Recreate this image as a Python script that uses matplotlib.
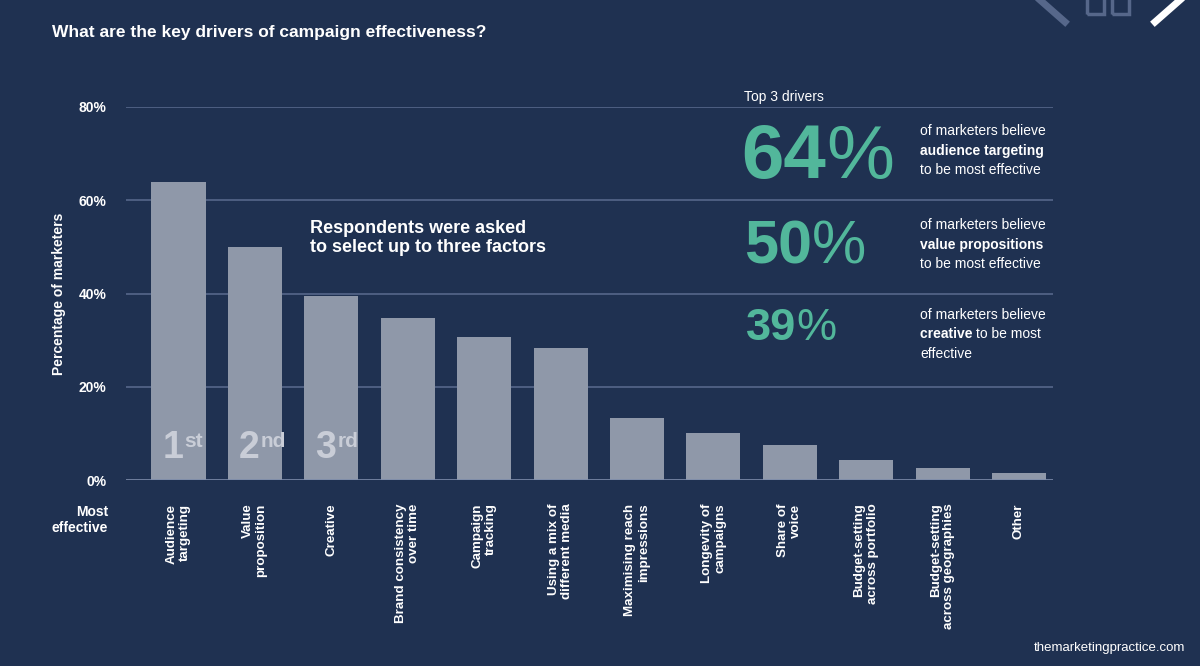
import matplotlib.pyplot as plt
from matplotlib.lines import Line2D
from matplotlib.patches import Rectangle

plt.rcParams["font.family"] = ["Liberation Sans", "DejaVu Sans"]

categories = [
    "Audience\ntargeting", "Value\nproposition", "Creative",
    "Brand consistency\nover time", "Campaign\ntracking",
    "Using a mix of\ndifferent media", "Maximising reach\nimpressions",
    "Longevity of\ncampaigns", "Share of\nvoice",
    "Budget-setting\nacross portfolio", "Budget-setting\nacross geographies",
    "Other",
]
values = [64, 50, 39.5, 34.8, 30.6, 28.3, 13.4, 10.0, 7.4, 4.2, 2.6, 1.6]
ranks = ["1", "2", "3"]
rank_suffix = ["st", "nd", "rd"]
yticks = [0, 20, 40, 60, 80]

top_pct = ["64", "50", "39"]
top_size = [55, 44, 32.5]
top_bold = ["audience targeting", "value propositions", "creative"]

BG = "#1f3151"
BAR = "#8f98a9"
GRID = "#56678a"
GREEN = "#52b79b"
WHITE = "#ffffff"

fig = plt.figure(figsize=(12, 6.66), dpi=100, facecolor=BG)
ax = fig.add_axes([126 / 1200, 186 / 666, 927 / 1200, 373 / 666])
ax.set_facecolor(BG)

x = list(range(len(values)))
ax.bar(x, values, width=0.707, color=BAR, zorder=3)
ax.set_xlim(-0.687, 11.445)
ax.set_ylim(0, 80)

for y in yticks:
    ax.axhline(y, color="#7d8cab" if y == 0 else GRID, lw=1.2, zorder=2 if y else 4)

for s in ax.spines.values():
    s.set_visible(False)
ax.set_yticks(yticks)
ax.set_yticklabels([f"{v}%" for v in yticks], fontweight="bold", fontsize=10, color=WHITE)
ax.tick_params(axis="y", length=0, pad=14)
ax.set_xticks(x)
ax.set_xticklabels([])
ax.tick_params(axis="x", length=0)
ax.set_ylabel("Percentage of marketers", fontweight="bold", fontsize=10,
              color=WHITE, labelpad=9)

for i, lab in enumerate(categories):
    ax.annotate(lab, (i, 0), xytext=(0, -17), textcoords="offset points",
                rotation=90, ha="center", va="top", multialignment="right",
                fontsize=9.6, fontweight="bold", color=WHITE, linespacing=1.15)

ax.annotate("Most\neffective", (-0.687, 0), xytext=(-13, -18), textcoords="offset points",
            ha="right", va="top", multialignment="right", fontsize=10,
            fontweight="bold", color=WHITE)

fig.canvas.draw()
renderer = fig.canvas.get_renderer()
for i in range(3):
    num = ax.annotate(ranks[i], (i - 0.707 / 2, 0), xytext=(8, 10), textcoords="offset points",
                      ha="left", va="bottom", fontsize=27, fontweight="bold",
                      color="#c9cdd7", zorder=5)
    bb = num.get_window_extent(renderer)
    ax.annotate(rank_suffix[i], (bb.x1 + 1, bb.y1 - 2), xycoords="figure pixels",
                ha="left", va="top", fontsize=15, fontweight="bold",
                color="#c9cdd7", zorder=5)

fig.text(310 / 1200, 1 - 238 / 666, "Respondents were asked\nto select up to three factors",
         fontsize=13, fontweight="bold", color=WHITE, va="center", linespacing=1.2)

fig.text(52 / 1200, 1 - 33 / 666, "What are the key drivers of campaign effectiveness?",
         fontsize=12.5, fontweight="bold", color=WHITE, va="center")

fig.text(744 / 1200, 1 - 97 / 666, "Top 3 drivers", fontsize=10, color=WHITE, va="center")

pct_base = [178, 264, 340]
pct_x = [741, 744, 746]
txt_y = [131, 225, 315]
for k in range(3):
    d = fig.text(pct_x[k] / 1200, 1 - pct_base[k] / 666, top_pct[k], fontsize=top_size[k],
                 fontweight="bold", color=GREEN, va="baseline", ha="left")
    db = d.get_window_extent(renderer)
    fig.text(db.x1 / 1200, 1 - pct_base[k] / 666, "%", fontsize=top_size[k],
             color=GREEN, va="baseline", ha="left")
    ty = 1 - txt_y[k] / 666
    fig.text(920 / 1200, ty, "of marketers believe", fontsize=10, color=WHITE, va="center")
    if k < 2:
        fig.text(920 / 1200, ty - 19.5 / 666, top_bold[k], fontsize=10,
                 fontweight="bold", color=WHITE, va="center")
        fig.text(920 / 1200, ty - 39 / 666, "to be most effective", fontsize=10,
                 color=WHITE, va="center")
    else:
        t = fig.text(920 / 1200, ty - 19.5 / 666, top_bold[k] + " ", fontsize=10,
                     fontweight="bold", color=WHITE, va="center")
        bb = t.get_window_extent(renderer)
        fig.text(bb.x1 / 1200, ty - 19.5 / 666, "to be most", fontsize=10,
                 color=WHITE, va="center")
        fig.text(920 / 1200, ty - 39 / 666, "effective", fontsize=10,
                 color=WHITE, va="center")

fig.text(1185 / 1200, 1 - 648 / 666, "themarketingpractice.com", fontsize=9.5,
         color=WHITE, ha="right", va="center")

# logo fragments top right
fig.add_artist(Line2D([1040 / 1200, 1065 / 1200], [1, 1 - 22 / 666],
                      color="#56678a", lw=5, transform=fig.transFigure))
for x0 in (1087, 1112):
    fig.add_artist(Rectangle((x0 / 1200, 1 - 14 / 666), 17 / 1200, 16 / 666,
                             fill=False, ec="#56678a", lw=2.5, transform=fig.transFigure))
fig.add_artist(Line2D([1155 / 1200, 1180 / 1200], [1 - 22 / 666, 1],
                      color=WHITE, lw=5, transform=fig.transFigure))

fig.savefig("out.png", dpi=100, facecolor=BG)
